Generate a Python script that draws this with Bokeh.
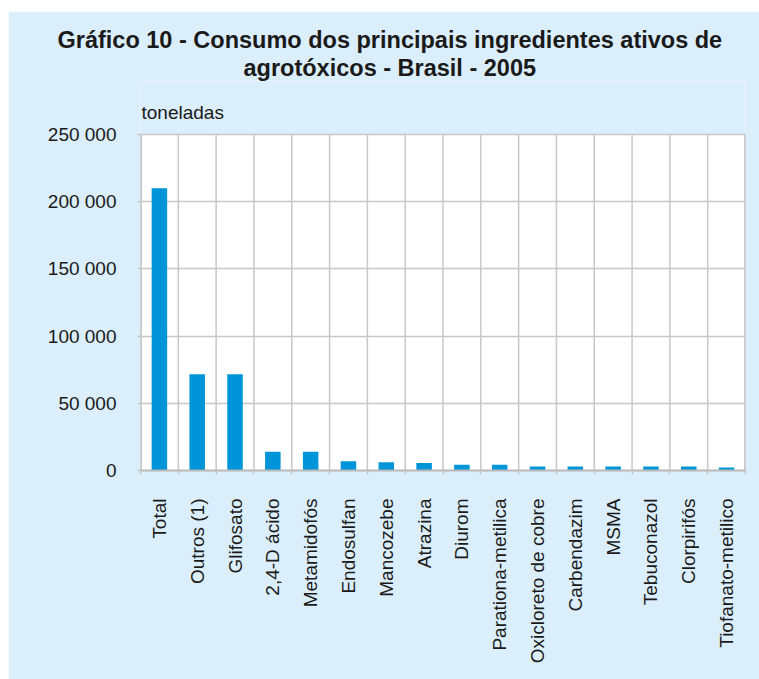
from bokeh.plotting import figure
from bokeh.models import FixedTicker, Title, ColumnDataSource, Label
from bokeh.embed import file_html
from bokeh.resources import INLINE

categories = ["Total", "Outros (1)", "Glifosato", "2,4-D ácido", "Metamidofós",
              "Endosulfan", "Mancozebe", "Atrazina", "Diurom", "Parationa-metilica",
              "Oxicloreto de cobre", "Carbendazim", "MSMA", "Tebuconazol",
              "Clorpirifós", "Tiofanato-metilico"]
values = [210000, 71700, 71700, 14000, 13900, 6900, 6200, 5500, 4200, 4200,
          3000, 3000, 3000, 3000, 3000, 2200]
y_ticks = [0, 50000, 100000, 150000, 200000, 250000]
y_tick_labels = ["0", "50 000", "100 000", "150 000", "200 000", "250 000"]

title_line1 = "Gráfico 10 - Consumo dos principais ingredientes ativos de"
title_line2 = "agrotóxicos - Brasil - 2005"
unit_label = "toneladas"

BG = "#dbeefb"
BAR = "#0095d8"
GRID = "#c8c8c8"
FONT = "Liberation Sans"

n = len(categories)
centers = [i + 0.5 for i in range(n)]
bounds = [float(i) for i in range(n + 1)]
y_max = y_ticks[-1]

# layout (pixels): the frame is extended upwards to hold the unit label
FIG_W, FIG_H = 751, 668
BORDER_TOP, BORDER_BOTTOM = 69, 209
CHART_H = 336                      # height of the white chart area
FRAME_H = FIG_H - BORDER_TOP - BORDER_BOTTOM
y_end = y_max * FRAME_H / CHART_H

src = ColumnDataSource(dict(x=centers, top=values, name=categories))

p = figure(width=FIG_W, height=FIG_H, x_range=(0, n), y_range=(0, y_end),
           output_backend="svg", toolbar_location=None,
           margin=(11, 0, 0, 8),
           min_border_left=132, min_border_right=14, min_border_top=BORDER_TOP,
           min_border_bottom=BORDER_BOTTOM)
p.background_fill_color = BG
p.border_fill_color = BG
p.outline_line_color = None

# white chart area, drawn beneath the grid
area = p.quad(left=[bounds[0]], right=[bounds[-1]], bottom=[y_ticks[0]], top=[y_max],
              fill_color="white", line_color=None)
area.level = "image"

# vertical grid lines at category boundaries (chart area only)
vg = p.segment(x0=bounds, y0=[y_ticks[0]] * len(bounds), x1=bounds, y1=[y_max] * len(bounds),
               line_color=GRID, line_width=1.5)
vg.level = "underlay"
edges = p.segment(x0=[bounds[0], bounds[-1]], y0=[y_ticks[0]] * 2,
                  x1=[bounds[0], bounds[-1]], y1=[y_max] * 2,
                  line_color=GRID, line_width=3)
edges.level = "underlay"

p.vbar(x="x", top="top", width=0.41, bottom=0, source=src, color=BAR, line_color=None)

# x axis
p.xaxis.ticker = FixedTicker(ticks=centers, minor_ticks=bounds)
p.xaxis.major_label_overrides = {c: lab for c, lab in zip(centers, categories)}
p.xaxis.major_label_orientation = 1.5707963
p.xaxis.major_tick_out = 0
p.xaxis.major_tick_in = 0
p.xaxis.minor_tick_out = 4
p.xaxis.minor_tick_in = 0
p.xaxis.minor_tick_line_color = GRID
p.xaxis.minor_tick_line_width = 1.5
p.xaxis.axis_line_color = "#b8b8b8"
p.xaxis.axis_line_width = 2
p.xaxis.major_label_standoff = 24
p.xaxis.major_label_text_font = FONT
p.xaxis.major_label_text_font_size = "19px"
p.xaxis.major_label_text_color = "#1a1a1a"

# y axis
p.yaxis.ticker = FixedTicker(ticks=y_ticks)
p.yaxis.major_label_overrides = {t: lab for t, lab in zip(y_ticks, y_tick_labels)}
p.yaxis.minor_tick_line_color = None
p.yaxis.major_tick_out = 3
p.yaxis.major_tick_in = 0
p.yaxis.major_tick_line_color = GRID
p.yaxis.major_tick_line_width = 1.5
p.yaxis.axis_line_color = None
p.yaxis.major_label_standoff = 21
p.yaxis.major_label_text_font = FONT
p.yaxis.major_label_text_font_size = "19px"
p.yaxis.major_label_text_color = "#1a1a1a"

# grids
p.xgrid.visible = False
p.ygrid.ticker = FixedTicker(ticks=y_ticks)
p.ygrid.grid_line_color = GRID
p.ygrid.grid_line_width = 1.5

# unit label
p.add_layout(Label(x=1, y=CHART_H + 22, x_units="screen", y_units="screen", text=unit_label,
                   text_font=FONT, text_font_size="19px", text_color="#1a1a1a",
                   text_align="left", text_baseline="alphabetic"))

# titles
p.title.text = title_line1
p.title.align = "left"
p.title.offset = -83
p.title.standoff = 0
p.title.text_font = FONT
p.title.text_font_style = "bold"
p.title.text_font_size = "23.5px"
p.title.text_color = "#1a1a1a"

p.add_layout(Title(text=title_line2, align="left", offset=103, standoff=0,
                   text_font=FONT, text_font_style="bold", text_font_size="23.5px",
                   text_color="#1a1a1a"), "above")

open("out.html", "w").write(file_html(p, INLINE))
